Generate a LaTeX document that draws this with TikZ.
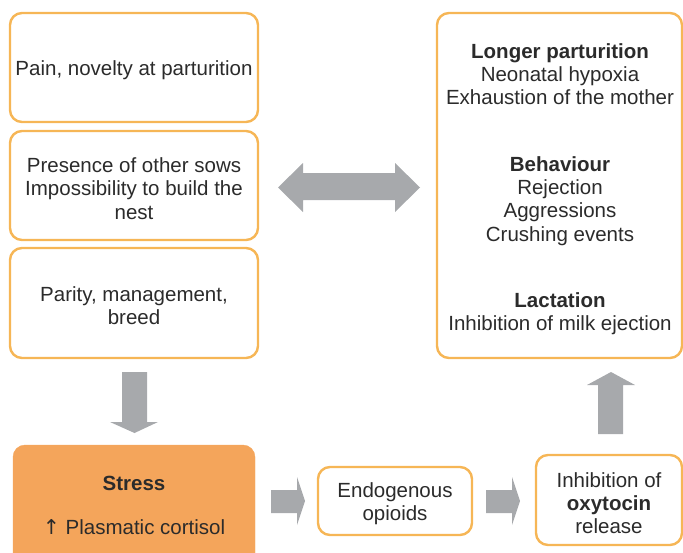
\documentclass[tikz,border=0pt]{standalone}
\usepackage{fontspec}
\setmainfont{Liberation Sans}
\newfontfamily\symfont{DejaVu Sans}
\definecolor{boxorange}{HTML}{F6B656}
\definecolor{stressfill}{HTML}{F4A55B}
\definecolor{arrowgray}{HTML}{A7A9AC}
\definecolor{txt}{HTML}{2B2B2B}
\begin{document}
\begin{tikzpicture}[x=1pt,y=-1pt,
  ob/.style={draw=boxorange, line width=2.4pt, rounded corners=12pt, fill=white, inner sep=0pt},
  sb/.style={draw=stressfill, fill=stressfill, rounded corners=12pt, inner sep=0pt},
  tx/.style={text=txt, align=center, inner sep=0pt, font=\fontsize{20.5}{23.3}\selectfont},
  blockarrow/.style={fill=arrowgray, draw=none}]
\useasboundingbox (0,0) rectangle (683,552);
\clip (0,0) rectangle (683,552);

% left boxes
\node[ob, minimum width=248pt, minimum height=109pt] (b1) at (134,67.5) {};
\node[tx] (t1) at ([yshift=-3pt]b1.center) {Pain, novelty at parturition};
\node[ob, minimum width=248pt, minimum height=109pt] (b2) at (134,185.5) {};
\node[tx] (t2) at ([yshift=-3pt]b2.center) {Presence of other sows\\Impossibility to build the\\nest};
\node[ob, minimum width=248pt, minimum height=110pt] (b3) at (134,303) {};
\node[tx] (t3) at ([yshift=-3pt]b3.center) {Parity, management,\\breed};

% right box
\node[ob, minimum width=245pt, minimum height=345pt] (rb) at (559.5,185.5) {};
\node[tx] (r1) at (560,74) {\textbf{Longer parturition}\\Neonatal hypoxia\\Exhaustion of the mother};
\node[tx] (r2) at (560,201) {\textbf{Behaviour}\\Rejection\\Aggressions\\Crushing events};
\node[tx] (r3) at (560,314) {\textbf{Lactation}\\Inhibition of milk ejection};

% bottom row
\node[sb, minimum width=242pt, minimum height=140pt] (st) at (134,515) {};
\node[tx] (s1) at (134,483) {\textbf{Stress}};
\node[tx] (s2) at (134,527) {{\symfont ↑} Plasmatic cortisol};
\node[ob, minimum width=154pt, minimum height=68pt] (eo) at (395,501) {};
\node[tx] (e1) at ([yshift=-3pt]eo.center) {Endogenous\\opioids};
\node[ob, minimum width=146pt, minimum height=90pt] (ox) at (609,500) {};
\node[tx] (o1) at ([yshift=-3pt]ox.center) {Inhibition of\\\textbf{oxytocin}\\release};

% block arrows
\fill[blockarrow] (122,372) -- (147,372) -- (147,422) -- (158,422) -- (134.5,433) -- (110,422) -- (122,422) -- cycle;
\fill[blockarrow] (271,490) -- (297,490) -- (297,477) -- (305,501) -- (297,525) -- (297,513) -- (271,513) -- cycle;
\fill[blockarrow] (486,490) -- (512,490) -- (512,477) -- (520,501) -- (512,525) -- (512,513) -- (486,513) -- cycle;
\fill[blockarrow] (598,434) -- (598,385) -- (587,385) -- (611,372) -- (635,385) -- (623,385) -- (623,434) -- cycle;
\fill[blockarrow] (278,187.5) -- (303,163) -- (303,173) -- (395,173) -- (395,163) -- (420,187.5) -- (395,212) -- (395,200) -- (303,200) -- (303,212) -- cycle;
\end{tikzpicture}
\end{document}
